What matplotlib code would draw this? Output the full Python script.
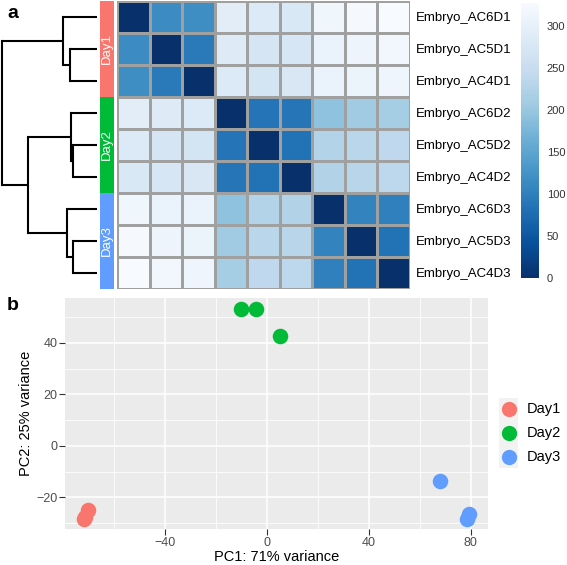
import numpy as np
import matplotlib
matplotlib.use("Agg")
import matplotlib.pyplot as plt
from matplotlib.patches import Rectangle

plt.rcParams['font.family'] = ['Liberation Sans', 'DejaVu Sans']

# sample names in heatmap order
samples = ["Embryo_AC6D1", "Embryo_AC5D1", "Embryo_AC4D1",
           "Embryo_AC6D2", "Embryo_AC5D2", "Embryo_AC4D2",
           "Embryo_AC6D3", "Embryo_AC5D3", "Embryo_AC4D3"]
groups = ["Day1"] * 3 + ["Day2"] * 3 + ["Day3"] * 3
group_names = ["Day1", "Day2", "Day3"]
group_colors = {"Day1": "#F8766D", "Day2": "#00BA38", "Day3": "#619CFF"}

# sample-to-sample distances
dists = np.array([
    [0, 116, 118, 292, 282, 278, 314, 322, 327],
    [116, 0, 92, 285, 270, 274, 306, 310, 316],
    [118, 92, 0, 282, 268, 276, 305, 308, 312],
    [292, 285, 282, 0, 86, 88, 192, 208, 211],
    [282, 270, 268, 86, 0, 84, 226, 232, 238],
    [278, 274, 276, 88, 84, 0, 224, 230, 236],
    [314, 306, 305, 192, 226, 224, 0, 104, 100],
    [322, 310, 308, 208, 232, 230, 104, 0, 84],
    [327, 316, 312, 211, 238, 236, 100, 84, 0],
], dtype=float)

# PCA coordinates
pc1 = [-70.5, -71.8, -71.5, -10.2, -4.4, 5.1, 68.0, 79.3, 78.7]
pc2 = [-25.0, -28.2, -27.6, 53.3, 53.0, 42.6, -13.5, -26.4, -28.2]

W, H = 567, 565
fig = plt.figure(figsize=(W / 100, H / 100), dpi=100)


def px_axes(x0, y0, x1, y1):
    # axes from pixel box (top-left origin)
    return fig.add_axes([x0 / W, 1 - y1 / H, (x1 - x0) / W, (y1 - y0) / H])


n = len(samples)

# ---- complete linkage clustering for the dendrogram
clusters = {i: [i] for i in range(n)}
node_y = {i: float(i) for i in range(n)}
node_h = {i: 0.0 for i in range(n)}
merges = []
next_id = n
while len(clusters) > 1:
    keys = list(clusters)
    best = None
    for i in range(len(keys)):
        for j in range(i + 1, len(keys)):
            a, b = keys[i], keys[j]
            d = dists[np.ix_(clusters[a], clusters[b])].max()
            if best is None or d < best[2]:
                best = (a, b, d)
    a, b, d = best
    merges.append((a, b, d))
    clusters[next_id] = clusters.pop(a) + clusters.pop(b)
    node_y[next_id] = (node_y[a] + node_y[b]) / 2
    node_h[next_id] = d
    next_id += 1

top_h = merges[-1][2]
ax_d = px_axes(2, 1, 97, 289)
for a, b, h in merges:
    for c in (a, b):
        ax_d.plot([node_h[c], h], [node_y[c], node_y[c]], color="black", lw=1.5,
                  solid_capstyle="butt", clip_on=False)
    ax_d.plot([h, h], [node_y[a], node_y[b]], color="black", lw=1.5,
              solid_capstyle="projecting", clip_on=False)
ax_d.set_xlim(top_h, 0)
ax_d.set_ylim(n - 0.5, -0.5)
ax_d.axis("off")

# ---- annotation bar
ax_a = px_axes(100, 1, 114, 289)
for g in group_names:
    rows = [i for i in range(n) if groups[i] == g]
    ax_a.axhspan(min(rows) - 0.5, max(rows) + 0.5, color=group_colors[g], lw=0)
    ax_a.text(0.5, np.mean(rows), g, rotation=90, ha="center", va="center",
              color="white", fontsize=9.5)
ax_a.set_xlim(0, 1)
ax_a.set_ylim(n - 0.5, -0.5)
ax_a.axis("off")

# ---- heatmap
ax_h = px_axes(117, 1, 410, 289)
mesh = ax_h.pcolormesh(dists, cmap="Blues_r", vmin=0, vmax=dists.max(),
                       edgecolors="#a0a0a0", linewidth=1.0)
ax_h.set_xlim(0, n)
ax_h.set_ylim(n, 0)
ax_h.set_xticks([])
ax_h.set_yticks(np.arange(n) + 0.5)
ax_h.set_yticklabels(samples, fontsize=9.5)
ax_h.yaxis.tick_right()
ax_h.tick_params(axis="y", length=0, pad=4)
for s in ax_h.spines.values():
    s.set_visible(False)

# ---- colorbar
ax_c = px_axes(521, 3, 539, 278)
cb = fig.colorbar(mesh, cax=ax_c, ticks=[0, 50, 100, 150, 200, 250, 300])
cb.outline.set_visible(False)
ax_c.tick_params(length=0, labelsize=8, pad=5.5, colors="#333333")

# ---- PCA scatter
ax_p = px_axes(65, 298, 488, 529)
ax_p.set_facecolor("#EBEBEB")
for g in group_names:
    xs = [pc1[i] for i in range(n) if groups[i] == g]
    ys = [pc2[i] for i in range(n) if groups[i] == g]
    ax_p.scatter(xs, ys, s=125, color=group_colors[g], lw=0, zorder=3)


def expand(v):
    lo, hi = min(v), max(v)
    pad = (hi - lo) * 0.05
    return lo - pad, hi + pad


ax_p.set_xlim(*expand(pc1))
ax_p.set_ylim(*expand(pc2))
ax_p.set_xticks([-40, 0, 40, 80])
ax_p.set_xticks([-60, -20, 20, 60], minor=True)
ax_p.set_yticks([-20, 0, 20, 40])
ax_p.set_yticks([-30, -10, 10, 30, 50], minor=True)
ax_p.grid(which="major", color="white", lw=1.1)
ax_p.grid(which="minor", color="white", lw=0.55)
ax_p.set_axisbelow(True)
ax_p.tick_params(which="major", length=4, color="#333333", labelsize=9,
                 labelcolor="#4D4D4D", width=0.8, pad=1.5)
ax_p.tick_params(which="minor", length=0)
for s in ax_p.spines.values():
    s.set_visible(False)
ax_p.set_xlabel("PC1: 71% variance", fontsize=10.5, labelpad=1)
ax_p.set_ylabel("PC2: 25% variance", fontsize=10.5, labelpad=2)

# legend with grey key backgrounds
leg_ax = px_axes(499, 398, 567, 468)
leg_ax.set_xlim(0, 68)
leg_ax.set_ylim(70, 0)
leg_ax.axis("off")
for k, g in enumerate(group_names):
    yc = 10.5 + k * 24.4
    leg_ax.add_patch(Rectangle((0, yc - 12), 19, 24, color="#F2F2F2", lw=0))
    leg_ax.plot([9.5], [yc], marker="o", markersize=11, color=group_colors[g],
                markeredgewidth=0, ls="")
    leg_ax.text(28, yc, g, fontsize=10.5, va="center", ha="left")

fig.text(7 / W, 1 - 13 / H, "a", fontsize=14, fontweight="bold", va="center")
fig.text(7 / W, 1 - 306 / H, "b", fontsize=14, fontweight="bold", va="center")

fig.savefig("out.png", dpi=100)
